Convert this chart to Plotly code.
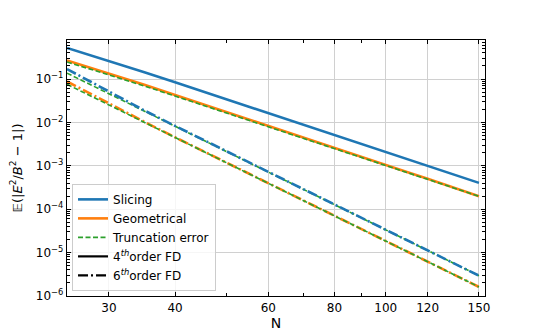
import plotly.graph_objects as go

# number of grid points
N = [25, 30, 35, 40, 50, 60, 70, 80, 90, 100, 110, 120, 130, 140, 150]

# 4th order finite differences
slicing_4th = [0.52, 0.262, 0.143, 0.0845, 0.0343, 0.0167, 0.0088, 0.00512, 0.0032,
               0.00208, 0.00142, 9.95e-4, 7.2e-4, 5.32e-4, 4.05e-4]
geometrical_4th = [0.268, 0.136, 0.0735, 0.0428, 0.0172, 0.0083, 0.00445, 0.00259, 0.00161,
                   0.00105, 7.15e-4, 5.03e-4, 3.64e-4, 2.69e-4, 2.0e-4]
truncation_4th = [0.248, 0.127, 0.0692, 0.0405, 0.0165, 0.0081, 0.00438, 0.00256, 0.00159,
                  0.00104, 7.1e-4, 5.0e-4, 3.62e-4, 2.68e-4, 1.99e-4]

# 6th order finite differences
slicing_6th = [0.170, 0.0505, 0.0189, 0.00833, 0.00216, 7.2e-4, 2.85e-4, 1.28e-4, 6.3e-5,
               3.36e-5, 1.9e-5, 1.12e-5, 6.95e-6, 4.45e-6, 2.95e-6]
geometrical_6th = [0.088, 0.0271, 0.01034, 0.00455, 0.00119, 3.97e-4, 1.57e-4, 7.05e-5, 3.48e-5,
                   1.85e-5, 1.045e-5, 6.2e-6, 3.83e-6, 2.46e-6, 1.62e-6]
truncation_6th_s = [0.137, 0.0459, 0.0182, 0.00817, 0.00214, 7.17e-4, 2.84e-4, 1.276e-4, 6.29e-5,
                    3.35e-5, 1.89e-5, 1.12e-5, 6.93e-6, 4.44e-6, 2.94e-6]
truncation_6th_g = [0.0756, 0.0253, 0.01004, 0.0045, 0.00118, 3.96e-4, 1.57e-4, 7.04e-5, 3.47e-5,
                    1.845e-5, 1.042e-5, 6.18e-6, 3.82e-6, 2.45e-6, 1.62e-6]

x_ticks = [30, 40, 60, 80, 100, 120, 150]
y_ticks = [1e-6, 1e-5, 1e-4, 1e-3, 1e-2, 1e-1]
y_ticktext = ["10<sup>\u22126</sup>", "10<sup>\u22125</sup>", "10<sup>\u22124</sup>",
              "10<sup>\u22123</sup>", "10<sup>\u22122</sup>", "10<sup>\u22121</sup>"]

BLUE = "#1f77b4"
ORANGE = "#ff7f0e"
GREEN = "#2ca02c"
DASHDOT = "10px,3px,2px,3px"
DASHED = "5px,2.5px"

fig = go.Figure()

# geometrical first, truncation on top of it, slicing on top of everything
fig.add_trace(go.Scatter(x=N, y=geometrical_4th, mode="lines", name="Geometrical", legendrank=2,
                         line=dict(color=ORANGE, width=2.6)))
fig.add_trace(go.Scatter(x=N, y=geometrical_6th, mode="lines", showlegend=False,
                         line=dict(color=ORANGE, width=2.6, dash=DASHDOT)))

fig.add_trace(go.Scatter(x=N, y=truncation_4th, mode="lines", name="Truncation error", legendrank=3,
                         line=dict(color=GREEN, width=1.6, dash=DASHED)))
fig.add_trace(go.Scatter(x=N, y=truncation_6th_s, mode="lines", showlegend=False,
                         line=dict(color=GREEN, width=1.6, dash=DASHED)))
fig.add_trace(go.Scatter(x=N, y=truncation_6th_g, mode="lines", showlegend=False,
                         line=dict(color=GREEN, width=1.6, dash=DASHED)))

fig.add_trace(go.Scatter(x=N, y=slicing_4th, mode="lines", name="Slicing", legendrank=1,
                         line=dict(color=BLUE, width=2.6)))
fig.add_trace(go.Scatter(x=N, y=slicing_6th, mode="lines", showlegend=False,
                         line=dict(color=BLUE, width=2.6, dash=DASHDOT)))

# legend only entries for line style
fig.add_trace(go.Scatter(x=[None], y=[None], mode="lines", name="4<sup><i>th</i></sup>order FD",
                         legendrank=4, line=dict(color="black", width=2.2)))
fig.add_trace(go.Scatter(x=[None], y=[None], mode="lines", name="6<sup><i>th</i></sup>order FD",
                         legendrank=5, line=dict(color="black", width=2.2, dash=DASHDOT)))

y_minor = [k * 10.0 ** e for e in range(-7, 1) for k in range(2, 10)]

# page body adds 8px, so the figure is 8px smaller than the window
fig.update_layout(
    width=532, height=326,
    margin=dict(l=59, r=55, t=32, b=38),
    paper_bgcolor="white", plot_bgcolor="white",
    font=dict(family="DejaVu Sans", size=12, color="black"),
    showlegend=True,
    legend=dict(x=0.012, y=0.02, xanchor="left", yanchor="bottom",
                bgcolor="rgba(255,255,255,0.8)", bordercolor="#cccccc", borderwidth=1,
                font=dict(size=12), tracegroupgap=0),
)

fig.update_xaxes(
    type="log", range=[1.39794, 2.1875], automargin=False,
    tickvals=x_ticks, ticktext=[str(v) for v in x_ticks],
    ticks="inside", ticklen=4, tickwidth=1, tickcolor="black",
    showline=True, linecolor="black", linewidth=1.3, mirror="allticks",
    showgrid=True, gridcolor="#d0d0d0", gridwidth=1,
    minor=dict(tickvals=[50, 70, 90], ticks="inside", ticklen=2.5, tickcolor="black", showgrid=False),
    title=dict(text="N", font=dict(size=14), standoff=0),
    zeroline=False,
)
fig.update_yaxes(
    type="log", range=[-6, -0.1], automargin=False,
    tickvals=y_ticks, ticktext=y_ticktext,
    ticks="inside", ticklen=4, tickwidth=1, tickcolor="black",
    showline=True, linecolor="black", linewidth=1.3, mirror="allticks",
    showgrid=True, gridcolor="#d0d0d0", gridwidth=1,
    minor=dict(tickvals=y_minor, ticks="inside", ticklen=2.5, tickcolor="black", showgrid=False),
    title=dict(text="\U0001D53C(|<i>E</i><sup>2</sup>/<i>B</i><sup>2</sup> \u2212 1|)",
               font=dict(size=13), standoff=10),
    zeroline=False,
)

fig.write_html("out.html")
